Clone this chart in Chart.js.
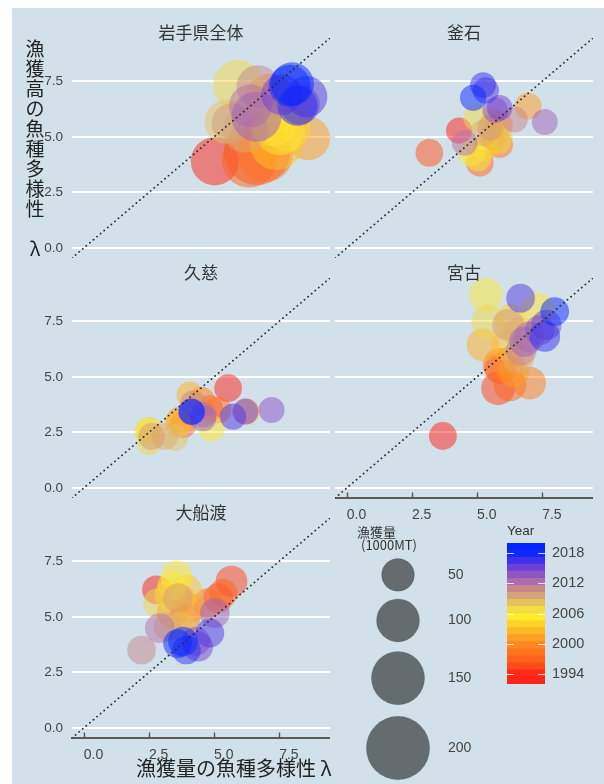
<!DOCTYPE html>
<html>
<head>
<meta charset="utf-8">
<script src="https://cdn.jsdelivr.net/npm/chart.js@4.4.1/dist/chart.umd.min.js"></script>
<style>
  body { margin: 0; width: 604px; height: 784px; overflow: hidden; background: #fff; font-family: 'Noto Sans CJK JP', sans-serif; }
  #bg { position: absolute; left: 12px; top: 8px; width: 592px; height: 776px; background: #d2e1e9; }
  canvas { position: absolute; }
  .t { position: absolute; color: #333; white-space: nowrap; }
</style>
</head>
<body>
<div id="bg"></div>
<script>
// 漁獲量 λ (x) と 漁獲高 λ (y)、漁獲量 (1000MT)、年ごと
const panelNames = ['岩手県全体', '釜石', '久慈', '宮古', '大船渡'];

const iwateYears = [1992, 1996, 1997, 1998, 1999, 2000, 2001, 2002, 2003, 2004, 2005, 2006, 2007, 2008, 2009, 2010, 2011, 2012, 2013, 2014, 2015, 2016, 2017, 2018, 2019];
const iwateCatchLambda = [5.03, 6.65, 6.35, 6.98, 7.01, 7.14, 8.61, 7.90, 7.39, 7.80, 7.26, 7.52, 5.92, 5.48, 6.20, 5.67, 6.69, 6.40, 6.63, 8.29, 7.60, 8.55, 8.20, 7.90, 8.00];
const iwateValueLambda = [3.90, 4.33, 3.96, 4.19, 5.09, 6.74, 4.94, 6.14, 4.71, 5.40, 5.69, 5.31, 7.34, 5.69, 5.30, 5.61, 7.26, 6.40, 5.91, 6.45, 6.90, 6.81, 6.40, 7.30, 7.38];
const iwateCatch = [125, 215, 160, 155, 135, 130, 105, 110, 150, 120, 130, 135, 134, 105, 110, 85, 100, 100, 134, 85, 90, 93, 85, 95, 102];

const kamaishiYears = [1992, 1996, 1997, 1998, 1999, 2000, 2001, 2002, 2003, 2004, 2005, 2006, 2007, 2008, 2009, 2010, 2011, 2012, 2013, 2014, 2015, 2016, 2017, 2018];
const kamaishiCatchLambda = [4.31, 3.17, 5.11, 5.87, 5.60, 5.87, 6.96, 5.62, 5.30, 5.81, 5.04, 4.79, 4.98, 5.87, 5.23, 5.50, 6.45, 4.53, 7.60, 5.70, 5.87, 5.34, 5.23, 4.85];
const kamaishiValueLambda = [5.28, 4.28, 3.83, 4.65, 5.00, 5.55, 6.38, 5.70, 4.50, 4.80, 4.05, 4.28, 5.86, 5.03, 5.18, 5.40, 5.78, 4.73, 5.67, 6.20, 6.31, 7.09, 7.33, 6.76];
const kamaishiCatch = [18, 25, 24, 20, 22, 18, 22, 16, 20, 18, 20, 22, 20, 18, 18, 15, 16, 16, 16, 14, 15, 18, 16, 18];

const kujiYears = [1992, 1996, 1997, 1998, 1999, 2000, 2001, 2002, 2003, 2004, 2005, 2006, 2007, 2008, 2009, 2010, 2011, 2012, 2013, 2014, 2015, 2016, 2017, 2018];
const kujiCatchLambda = [5.54, 4.84, 3.81, 5.16, 4.52, 3.69, 6.25, 4.07, 3.60, 2.50, 4.90, 2.47, 2.53, 3.49, 3.11, 2.60, 4.20, 4.60, 4.58, 7.21, 6.20, 5.73, 4.13, 4.15];
const kujiValueLambda = [4.49, 3.59, 2.84, 3.51, 3.96, 3.06, 3.44, 4.19, 2.90, 2.60, 2.69, 2.54, 2.09, 2.27, 2.32, 2.32, 3.80, 3.30, 3.14, 3.51, 3.44, 3.21, 3.44, 3.42];
const kujiCatch = [25, 18, 20, 20, 20, 22, 16, 20, 20, 20, 20, 22, 20, 20, 20, 20, 18, 16, 18, 16, 16, 18, 18, 18];

const miyakoYears = [1992, 1995, 1996, 1997, 1998, 1999, 2000, 2001, 2002, 2003, 2004, 2005, 2006, 2007, 2008, 2009, 2010, 2011, 2012, 2013, 2014, 2015, 2016, 2017, 2018];
const miyakoCatchLambda = [3.69, 5.81, 5.90, 6.26, 5.87, 7.02, 6.19, 6.40, 5.23, 6.13, 6.30, 7.34, 5.34, 5.43, 6.60, 6.57, 6.19, 6.70, 7.00, 6.83, 7.40, 7.66, 6.67, 7.60, 7.98];
const miyakoValueLambda = [2.34, 4.49, 5.40, 4.64, 5.54, 4.72, 5.62, 5.20, 6.44, 6.44, 7.60, 8.02, 8.69, 7.49, 7.00, 5.84, 7.34, 6.20, 6.80, 6.59, 7.10, 7.34, 8.54, 6.82, 7.94];
const miyakoCatch = [26, 55, 45, 50, 55, 50, 45, 40, 50, 45, 40, 55, 55, 55, 40, 45, 45, 40, 40, 40, 35, 38, 30, 40, 30];

const ofunatoYears = [1992, 1995, 1996, 1997, 1998, 1999, 2000, 2001, 2002, 2003, 2004, 2005, 2006, 2007, 2008, 2009, 2010, 2011, 2012, 2013, 2014, 2015, 2016, 2017, 2018, 2019];
const ofunatoCatchLambda = [2.79, 5.67, 5.16, 5.35, 4.77, 3.40, 3.88, 4.10, 3.70, 3.94, 3.30, 3.56, 3.40, 2.85, 3.70, 3.24, 3.62, 2.22, 2.92, 5.03, 4.30, 4.39, 4.84, 3.94, 3.81, 3.60];
const ofunatoValueLambda = [6.22, 6.59, 5.84, 6.07, 5.62, 5.20, 4.94, 5.40, 5.80, 6.22, 6.00, 6.82, 6.40, 5.62, 4.60, 4.56, 5.84, 3.51, 4.49, 5.17, 3.90, 3.66, 4.27, 3.51, 3.89, 3.80];
const ofunatoCatch = [30, 45, 35, 30, 35, 40, 40, 35, 35, 40, 40, 45, 35, 35, 35, 30, 35, 30, 35, 35, 30, 35, 30, 30, 35, 30];

const axisTicks = [0, 2.5, 5, 7.5];
const axisLimits = [-0.45, 9.45];
const sizeBreaks = [50, 100, 150, 200];
const yearBreaks = [1994, 2000, 2006, 2012, 2018];
const yearLimits = [1992, 2020];

// 年 → 色 (赤 → 橙 → 黄 → 茶 → 紫 → 青)
const colorStops = [
  [1992, '#ff2018'], [1994, '#ff2818'], [1995.5, '#ff4a1a'], [1997.5, '#ff6a1c'], [2000, '#ff8a20'],
  [2002.5, '#ffb824'], [2005.5, '#fff02c'], [2007, '#f0d848'], [2008.5, '#e0b868'],
  [2010.5, '#d09080'], [2012.5, '#a868b4'], [2014.5, '#8048cc'], [2016.5, '#4030ec'],
  [2018, '#0a28ff'], [2020, '#0022ff']
];
function hexRgb(h) { return [1, 3, 5].map(i => parseInt(h.substr(i, 2), 16)); }
function yearColor(yr, alpha) {
  let i = 0;
  while (i < colorStops.length - 2 && yr > colorStops[i + 1][0]) i++;
  const [y0, c0] = colorStops[i], [y1, c1] = colorStops[i + 1];
  const t = Math.min(1, Math.max(0, (yr - y0) / (y1 - y0)));
  const a = hexRgb(c0), b = hexRgb(c1);
  const c = a.map((v, k) => Math.round(v + (b[k] - v) * t));
  return `rgba(${c[0]},${c[1]},${c[2]},${alpha})`;
}
// 漁獲量 → 円の半径(px)
function radius(v) { return 11.3 + 0.102 * v; }

Chart.defaults.font.family = "'Liberation Sans', 'Noto Sans CJK JP', sans-serif";
Chart.defaults.color = '#444';

const plotLeft = [72, 335], plotTop = [38, 278, 518];
const plotW = 258, plotH = 220;

const panels = [
  { years: iwateYears, x: iwateCatchLambda, y: iwateValueLambda, c: iwateCatch, col: 0, row: 0, xAxis: false },
  { years: kamaishiYears, x: kamaishiCatchLambda, y: kamaishiValueLambda, c: kamaishiCatch, col: 1, row: 0, xAxis: false },
  { years: kujiYears, x: kujiCatchLambda, y: kujiValueLambda, c: kujiCatch, col: 0, row: 1, xAxis: false },
  { years: miyakoYears, x: miyakoCatchLambda, y: miyakoValueLambda, c: miyakoCatch, col: 1, row: 1, xAxis: true },
  { years: ofunatoYears, x: ofunatoCatchLambda, y: ofunatoValueLambda, c: ofunatoCatch, col: 0, row: 2, xAxis: true }
];

// x軸の目盛り線は内向き
const inwardTicks = {
  id: 'inwardTicks',
  afterDraw(chart) {
    const xs = chart.scales.x;
    if (!xs.options.display) return;
    const ctx = chart.ctx;
    ctx.save();
    ctx.strokeStyle = '#555';
    ctx.lineWidth = 1.4;
    xs.ticks.forEach(t => {
      const px = Math.round(xs.getPixelForValue(t.value)) + 0.5;
      ctx.beginPath();
      ctx.moveTo(px, xs.top);
      ctx.lineTo(px, xs.top - 5.5);
      ctx.stroke();
    });
    ctx.restore();
  }
};

function addText(txt, left, top, size, extra) {
  const d = document.createElement('div');
  d.className = 't';
  d.innerHTML = txt;
  d.style.left = left + 'px';
  d.style.top = top + 'px';
  d.style.fontSize = size + 'px';
  Object.assign(d.style, extra || {});
  document.body.appendChild(d);
  return d;
}

const baseOptions = {
  responsive: false,
  animation: false,
  devicePixelRatio: 1,
  events: [],
  layout: { padding: 0, autoPadding: false },
  plugins: { legend: { display: false }, tooltip: { enabled: false } }
};

panels.forEach((p, idx) => {
  const yAxisW = p.col === 0 ? 60 : 0;
  const xAxisH = p.xAxis ? 32 : 0;
  const c = document.createElement('canvas');
  c.width = plotW + yAxisW;
  c.height = plotH + xAxisH;
  c.style.left = (plotLeft[p.col] - yAxisW) + 'px';
  c.style.top = plotTop[p.row] + 'px';
  document.body.appendChild(c);

  const points = p.years.map((yr, i) => ({ x: p.x[i], y: p.y[i], r: radius(p.c[i]) }));

  new Chart(c, {
    type: 'bubble',
    data: {
      datasets: [
        {
          // y = x の参照線
          type: 'line',
          data: [{ x: axisLimits[0], y: axisLimits[0] }, { x: axisLimits[1], y: axisLimits[1] }],
          borderColor: '#2a2a2a',
          borderWidth: 1.8,
          borderDash: [0.1, 4.6],
          borderCapStyle: 'round',
          pointRadius: 0,
          order: 0,
          clip: 0
        },
        {
          data: points,
          backgroundColor: p.years.map(yr => yearColor(yr, 0.5)),
          borderWidth: 0,
          order: 1,
          clip: 2
        }
      ]
    },
    options: {
      ...baseOptions,
      scales: {
        x: {
          type: 'linear',
          min: axisLimits[0],
          max: axisLimits[1],
          display: p.xAxis,
          afterBuildTicks: s => { s.ticks = axisTicks.map(v => ({ value: v })); },
          afterFit: s => { s.height = xAxisH; s.paddingLeft = 0; s.paddingRight = 0; },
          grid: { display: false, drawTicks: false },
          border: { display: true, color: '#5a5a5a', width: 2 },
          ticks: { align: 'start', padding: 9, maxRotation: 0, autoSkip: false, color: '#444', font: { size: 14 }, callback: v => v.toFixed(1) }
        },
        y: {
          type: 'linear',
          min: axisLimits[0],
          max: axisLimits[1],
          afterBuildTicks: s => { s.ticks = axisTicks.map(v => ({ value: v })); },
          afterFit: s => { s.width = yAxisW; s.paddingTop = 0; s.paddingBottom = 0; },
          grid: { color: '#ffffff', lineWidth: 2, drawTicks: false },
          border: { display: false },
          ticks: { display: p.col === 0, padding: 9, color: '#444', font: { size: 13.5 }, callback: v => v.toFixed(1) }
        }
      }
    },
    plugins: [inwardTicks]
  });

  // パネル見出し
  addText(panelNames[idx], plotLeft[p.col], plotTop[p.row] - 17, 17,
    { width: plotW + 'px', textAlign: 'center', lineHeight: '22px' });
});

// 軸タイトル
addText('漁<br>獲<br>高<br>の<br>魚<br>種<br>多<br>様<br>性<br>&nbsp;<br>λ', 24, 38, 19,
  { width: '22px', textAlign: 'center', lineHeight: '20px', color: '#222' });
addText('漁獲量の魚種多様性 λ', 136, 755, 20, { lineHeight: '26px', color: '#222' });

// 漁獲量の凡例
addText('漁獲量', 357, 523, 13, { lineHeight: '17px' });
addText('(1000MT)', 361, 536, 13, { lineHeight: '17px' });

const sizeR = sizeBreaks.map(radius);
const keyPos = [];
sizeR.forEach((r, i) => {
  keyPos.push(i === 0 ? 2.5 + r : keyPos[i - 1] + 1.2 * (sizeR[i - 1] + r));
});
const sizeCanvas = document.createElement('canvas');
sizeCanvas.width = 140;
sizeCanvas.height = 228;
sizeCanvas.style.left = '348px';
sizeCanvas.style.top = '556px';
document.body.appendChild(sizeCanvas);
new Chart(sizeCanvas, {
  type: 'bubble',
  data: {
    datasets: [{
      data: sizeBreaks.map((v, i) => ({ x: 0, y: keyPos[i], r: sizeR[i] })),
      backgroundColor: 'rgba(0,0,0,0.52)',
      borderColor: 'rgba(0,0,0,0.12)',
      borderWidth: 1
    }]
  },
  options: {
    ...baseOptions,
    scales: {
      x: { type: 'linear', min: -1, max: 1, display: false },
      y: {
        type: 'linear', position: 'right', reverse: true, min: 0, max: 228,
        afterBuildTicks: s => { s.ticks = keyPos.map(v => ({ value: v })); },
        afterFit: s => { s.width = 40; s.paddingTop = 0; s.paddingBottom = 0; },
        grid: { display: false, drawTicks: false },
        border: { display: false },
        ticks: { padding: 0, color: '#444', font: { size: 14 }, callback: (v, i) => String(sizeBreaks[i]) }
      }
    }
  }
});

// 年のカラーバー
addText('Year', 507, 522, 13.5, { lineHeight: '18px', fontFamily: "'Liberation Sans', sans-serif" });
const nBins = 20;
const binW = (yearLimits[1] - yearLimits[0]) / nBins;
const bins = Array.from({ length: nBins }, (_, i) => yearLimits[0] + i * binW);

const barTicks = {
  id: 'barTicks',
  afterDatasetsDraw(chart) {
    const ys = chart.scales.y, a = chart.chartArea, ctx = chart.ctx;
    ctx.save();
    ctx.strokeStyle = 'rgba(255,255,255,0.8)';
    ctx.lineWidth = 1;
    yearBreaks.forEach(yr => {
      const py = Math.round(ys.getPixelForValue(yr)) + 0.5;
      ctx.beginPath();
      ctx.moveTo(a.left, py); ctx.lineTo(a.left + 7, py);
      ctx.moveTo(a.right - 7, py); ctx.lineTo(a.right, py);
      ctx.stroke();
    });
    ctx.restore();
  }
};

const barCanvas = document.createElement('canvas');
barCanvas.width = 90;
barCanvas.height = 141;
barCanvas.style.left = '507px';
barCanvas.style.top = '543px';
document.body.appendChild(barCanvas);
new Chart(barCanvas, {
  type: 'bar',
  data: {
    labels: [''],
    datasets: bins.map(b => ({
      data: [[b, b + binW]],
      backgroundColor: yearColor(b + binW / 2, 1),
      borderWidth: 0,
      grouped: false,
      barPercentage: 1,
      categoryPercentage: 1
    }))
  },
  options: {
    ...baseOptions,
    scales: {
      x: { display: false },
      y: {
        type: 'linear', position: 'right', min: yearLimits[0], max: yearLimits[1],
        afterBuildTicks: s => { s.ticks = yearBreaks.map(v => ({ value: v })); },
        afterFit: s => { s.width = 52; s.paddingTop = 0; s.paddingBottom = 0; },
        grid: { display: false, drawTicks: false },
        border: { display: false },
        ticks: { padding: 7, color: '#444', font: { size: 14.5 }, callback: v => String(v) }
      }
    }
  },
  plugins: [barTicks]
});
</script>
</body>
</html>
